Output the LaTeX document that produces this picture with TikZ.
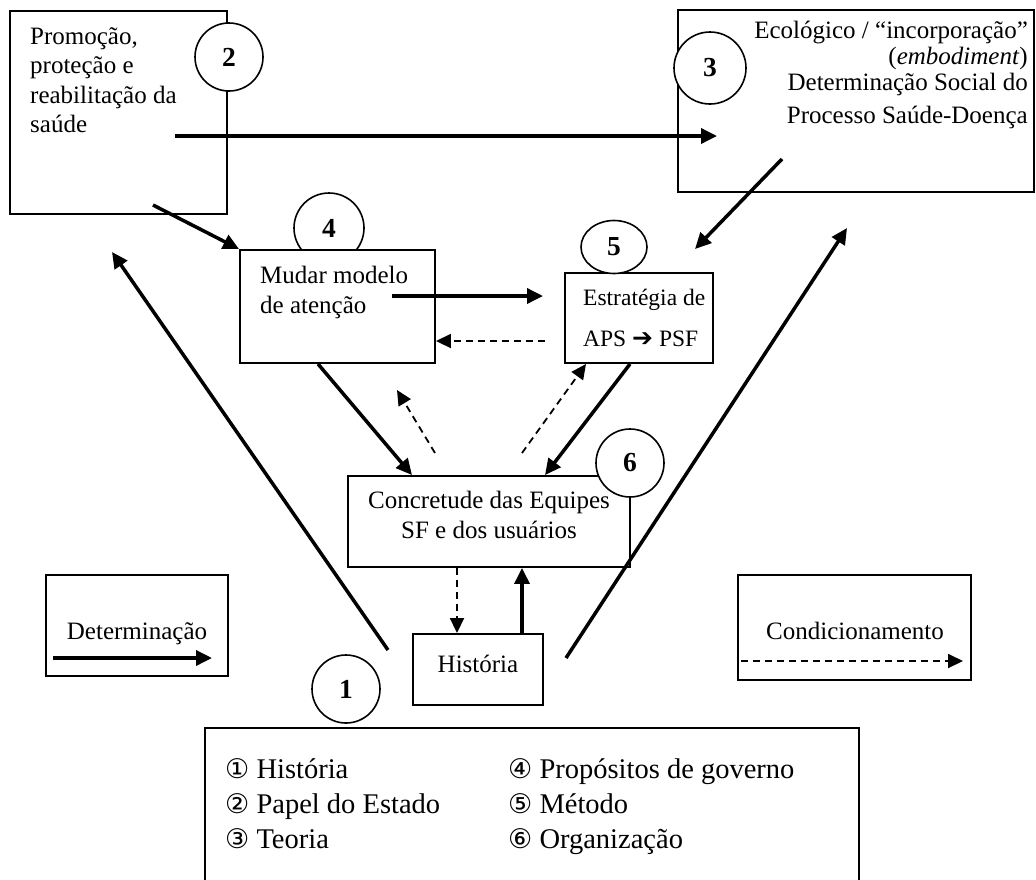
\documentclass[tikz,border=0pt]{standalone}
\usepackage{fontspec}
\setmainfont{Liberation Serif}
\newfontfamily\dejavu{DejaVu Sans}
\usetikzlibrary{arrows.meta,shapes.geometric}

\begin{document}
\begin{tikzpicture}[x=1pt, y=-1pt,
	box/.style={draw, line width=1.9pt, fill=white, inner sep=0pt},
	numcirc/.style={circle, draw, line width=1.6pt, fill=white, minimum size=#1, inner sep=0pt, font=\fontsize{27.5}{27.5}\selectfont\bfseries},
	txt/.style={inner sep=0pt, font=\fontsize{25}{29.5}\selectfont},
	legtxt/.style={inner sep=0pt, anchor=base west, font=\fontsize{28.5}{35}\selectfont},
	det/.style={line width=3.5pt, -{Triangle[length=16pt,width=15pt]}},
	cond/.style={line width=1.8pt, dash pattern=on 7pt off 5pt, -{Triangle[length=15pt,width=14pt]}}]
	\useasboundingbox (0,0) rectangle (1036,879);

	% boxes
	\node[box, minimum width=217pt, minimum height=203pt] (promo) at (118.5,112.5) {};
	\node[box, minimum width=356pt, minimum height=182pt] (eco) at (856,101) {};
	\node[numcirc=70pt] (num4) at (329,228) {4};
	\node[box, minimum width=195pt, minimum height=113pt] (mudar) at (337.5,306.5) {};
	\node[box, minimum width=148pt, minimum height=90pt] (estrat) at (639,318) {};
	\node[box, minimum width=282pt, minimum height=91pt] (concr) at (489,521.5) {};
	\node[box, minimum width=130pt, minimum height=71pt] (hist) at (478,669.5) {};
	\node[box, minimum width=182pt, minimum height=101pt] (detbox) at (137,625.5) {};
	\node[box, minimum width=233pt, minimum height=105pt] (condbox) at (854.5,627.5) {};
	\node[box, minimum width=654pt, minimum height=162pt, anchor=north west] (legbox) at (204,727) {};

	\node[numcirc=68pt] (num2) at (229,57) {2};
	\node[numcirc=72pt] (num3) at (710,68) {3};
	\node[numcirc=53pt, ellipse, minimum width=66pt] (num5) at (614,247) {5};
	\node[numcirc=68pt] (num6) at (630,463) {6};
	\node[numcirc=68pt] (num1) at (346,689) {1};

	% texts
	\node[txt, anchor=north west, align=left] (promotxt) at (30,27) {Promoção,\\proteção e\\reabilitação da\\saúde};
	\node[txt, anchor=north east, align=right, font=\fontsize{25}{26}\selectfont] (ecotxt) at (1028,21)
		{Ecológico / “incorporação”\\(\textit{embodiment})\\Determinação Social do\\[7pt]Processo Saúde-Doença};
	\node[txt, anchor=north west, align=left] (mudartxt) at (260,266) {Mudar modelo\\de atenção};
	\node[txt, anchor=north west, align=left, font=\fontsize{23.5}{28}\selectfont] (estrattxt) at (583,289)
		{Estratégia de\\[13pt]APS {\dejavu\bfseries\fontsize{25}{25}\selectfont ➔} PSF};
	\node[txt, anchor=north, align=center] (concrtxt) at (489,491) {Concretude das Equipes\\SF e dos usuários};
	\node[txt, anchor=base] (histtxt) at (478,672) {História};
	\node[txt, anchor=base] (dettxt) at (137,639) {Determinação};
	\node[txt, anchor=base] (condtxt) at (855,639) {Condicionamento};

	\foreach \n/\t [count=\i] in {①/História, ②/Papel do Estado, ③/Teoria}
		\node[legtxt] (legl\i) at (225,743+35*\i) {{\dejavu\fontsize{27}{27}\selectfont\n} \t};
	\foreach \n/\t [count=\i] in {④/Propósitos de governo, ⑤/Método, ⑥/Organização}
		\node[legtxt] (legr\i) at (508,743+35*\i) {{\dejavu\fontsize{27}{27}\selectfont\n} \t};

	% connectors
	\coordinate (promoout) at (153,205);
	\coordinate (hstart) at (175,136);
	\coordinate (hend) at (717,136);
	\coordinate (ecoout) at (782,159);
	\coordinate (ecoend) at (695,249);
	\coordinate (mudarout) at (392,296);
	\coordinate (estratin) at (543,296);
	\coordinate (estratout) at (545,341);
	\coordinate (concrl) at (435,453);
	\coordinate (mudarin) at (397,390);
	\coordinate (concrr) at (522,453);
	\coordinate (histl) at (388,650);
	\coordinate (lefttip) at (112,252);
	\coordinate (histr) at (566,658);
	\coordinate (righttip) at (847,228);

	\draw[det] (promoout) -- (mudar.north west);
	\draw[det] (hstart) -- (hend);
	\draw[det] (ecoout) -- (ecoend);
	\draw[det] (mudarout) -- (estratin);
	\draw[cond] (estratout) -- (estratout -| mudar.east);
	\draw[det] ([xshift=-19.5pt]mudar.south) -- ([xshift=-77pt]concr.north);
	\draw[det] ([xshift=-9pt]estrat.south) -- ([xshift=56pt]concr.north);
	\draw[cond] (concrl) -- (mudarin);
	\draw[cond] (concrr) -- ([xshift=-53pt]estrat.south);
	\draw[cond] ([xshift=-32pt]concr.south) -- ([xshift=-21pt]hist.north);
	\draw[det] ([xshift=44pt]hist.north) -- ([xshift=33pt]concr.south);
	\draw[det] (histl) -- (lefttip);
	\draw[det] (histr) -- (righttip);

	% legend arrows
	\coordinate (deta) at (53,658);
	\coordinate (detb) at (212,658);
	\coordinate (conda) at (741,661);
	\coordinate (condb) at (963,661);
	\draw[det] (deta) -- (detb);
	\draw[cond] (conda) -- (condb);
\end{tikzpicture}
\end{document}
